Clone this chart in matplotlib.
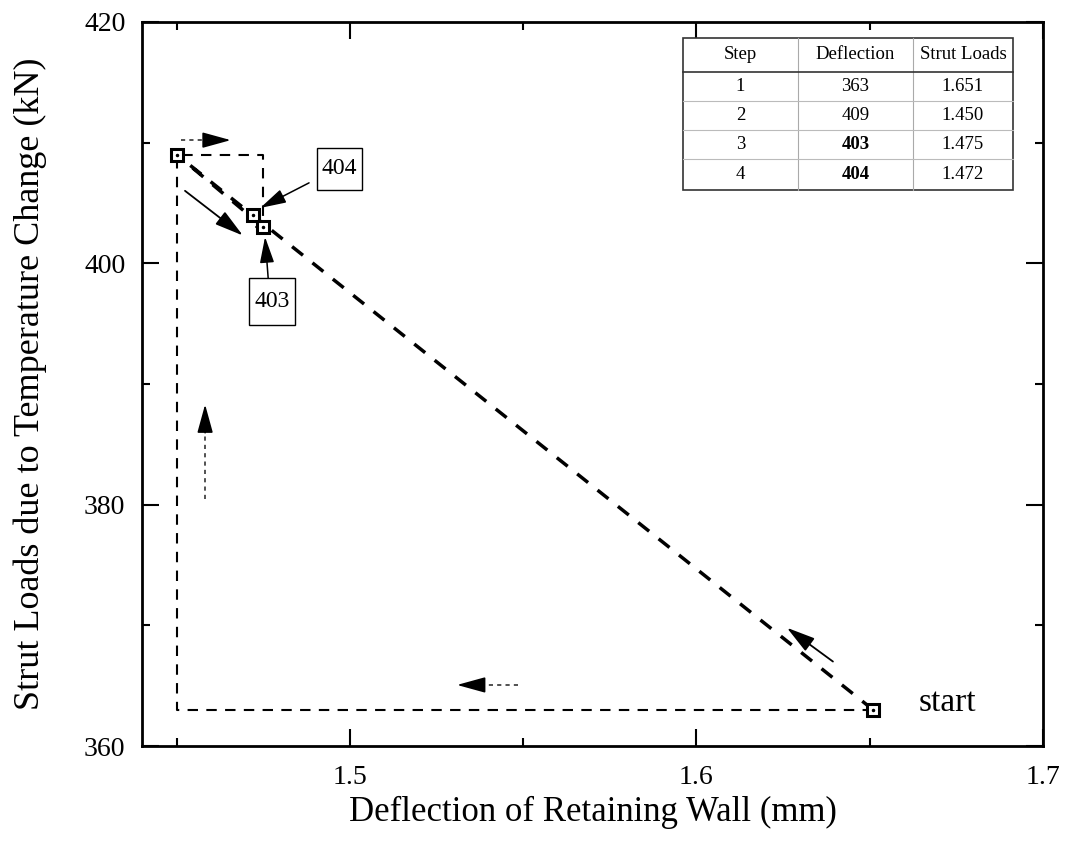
import matplotlib
matplotlib.use("Agg")
import matplotlib.pyplot as plt
from matplotlib.ticker import MultipleLocator
from matplotlib.lines import Line2D
from matplotlib.patches import Rectangle

# ---- data ----
steps = [1, 2, 3, 4]
deflection = [1.651, 1.450, 1.475, 1.472]   # mm
strut_load = [363, 409, 403, 404]           # kN
table_header = ["Step", "Deflection", "Strut Loads"]
table_col2 = ["363", "409", "403", "404"]
table_col3 = ["1.651", "1.450", "1.475", "1.472"]
bold_rows = [2, 3]
x_ticks = [1.5, 1.6, 1.7]
y_ticks = [360, 380, 400, 420]
callouts = ["404", "403"]

plt.rcParams['font.family'] = ['Liberation Serif', 'DejaVu Serif']

fig = plt.figure(figsize=(10.68, 8.57), dpi=100)
ax = fig.add_axes([0.133, 0.1295, 0.8435, 0.845])

# step path (thin dashed)
ax.plot(deflection, strut_load, drawstyle='steps-post', color='black',
        lw=1.5, dashes=(5, 4), zorder=2)
# direct path (thick dashed)
ax.plot(deflection, strut_load, color='black', lw=2.5, dashes=(4, 3.5), zorder=3)
# markers
ax.plot(deflection, strut_load, ls='none', marker='s', ms=9, mfc='white',
        mec='black', mew=2.2, zorder=4)
ax.plot(deflection, strut_load, ls='none', marker='o', ms=1.5, color='black', zorder=5)

ax.set_xlim(1.44, 1.70)
ax.set_ylim(360, 420)
ax.xaxis.set_minor_locator(MultipleLocator(0.05))
ax.yaxis.set_minor_locator(MultipleLocator(10))
ax.set_xticks(x_ticks)
ax.set_xticklabels([f"{v:g}" for v in x_ticks])
ax.set_yticks(y_ticks)
ax.tick_params(which='both', direction='in', top=True, right=True, width=1.5)
ax.tick_params(which='major', length=12, labelsize=20)
ax.tick_params(axis='x', which='major', pad=14)
ax.tick_params(axis='y', which='major', pad=12)
ax.tick_params(which='minor', length=6)
for s in ax.spines.values():
    s.set_linewidth(2)

ax.set_xlabel("Deflection of Retaining Wall (mm)", fontsize=25)
ax.set_ylabel("Strut Loads due to Temperature Change (kN)", fontsize=26)
ax.xaxis.label.set_va('center')
ax.yaxis.label.set_va('center')
ax.xaxis.set_label_coords(0.5, (746 - 812) / 724.0)
ax.yaxis.set_label_coords((30 - 142) / 901.0, 0.5)

HEAD = '-|>,head_length=0.8,head_width=0.22'

def arrow(x0, y0, x1, y1, dotted=False, lw=1.3, ms=22):
    if dotted:
        fx_ = x0 + (x1 - x0) * 0.7
        fy_ = y0 + (y1 - y0) * 0.7
        ax.plot([x0, fx_], [y0, fy_], color='#333333', lw=1.2, dashes=(2.5, 2.5), zorder=6)
        ax.annotate("", xy=(x1, y1), xytext=(fx_, fy_),
                    arrowprops=dict(arrowstyle=HEAD, color='black', lw=1.2,
                                    mutation_scale=ms, shrinkA=0, shrinkB=0), zorder=6)
    else:
        ax.annotate("", xy=(x1, y1), xytext=(x0, y0),
                    arrowprops=dict(arrowstyle=HEAD, color='black', lw=lw,
                                    mutation_scale=ms, shrinkA=0, shrinkB=0), zorder=6)

arrow(1.4512, 410.2, 1.4656, 410.2, dotted=True)
arrow(1.4524, 406.0, 1.4691, 402.3)
arrow(1.4582, 380.5, 1.4582, 388.3, dotted=True)
arrow(1.5485, 365.06, 1.5309, 365.06, dotted=True)
arrow(1.6394, 367.0, 1.6261, 369.8)

# table / box helpers (axes fraction from pixel layout)
def fx(px):
    return (px - 142) / 901.0
def fy(py):
    return (746 - py) / 724.0
t = ax.transAxes

# boxed callouts
box_px = [(317, 148, 362, 190), (249, 278, 295, 325)]
for label, (x0, y0, x1, y1) in zip(callouts, box_px):
    ax.add_patch(Rectangle((fx(x0), fy(y1)), fx(x1) - fx(x0), fy(y0) - fy(y1),
                           transform=t, fc='white', ec='black', lw=1, zorder=7))
    ax.text(fx((x0 + x1) / 2), fy((y0 + y1) / 2), label, transform=t, fontsize=17,
            ha='center', va='center', zorder=8)
arrow(1.4882, 406.66, 1.4741, 404.58, lw=1.1, ms=20)
arrow(1.4764, 398.78, 1.4755, 402.18, lw=1.1, ms=20)

ax.text(1.664, 363.6, "start", fontsize=24, ha='left', va='center')

# table
col_px = [683, 798, 913, 1013]
row_px = [38, 72, 101, 130, 159, 190]
ax.add_patch(Rectangle((fx(col_px[0]), fy(row_px[-1])),
                       fx(col_px[-1]) - fx(col_px[0]), fy(row_px[0]) - fy(row_px[-1]),
                       transform=t, fc='white', ec='#333333', lw=1.2, zorder=8))
for c in col_px[1:-1]:
    ax.add_line(Line2D([fx(c), fx(c)], [fy(row_px[0]), fy(row_px[-1])], transform=t,
                       color='#aaaaaa', lw=0.8, zorder=9))
for i, r in enumerate(row_px[1:-1]):
    ax.add_line(Line2D([fx(col_px[0]), fx(col_px[-1])], [fy(r), fy(r)], transform=t,
                       color='#333333' if i == 0 else '#bbbbbb',
                       lw=1.2 if i == 0 else 0.8, zorder=9))
rows = [table_header] + [[str(s), a, b] for s, a, b in zip(steps, table_col2, table_col3)]
for ri, row in enumerate(rows):
    yc = fy((row_px[ri] + row_px[ri + 1]) / 2)
    for ci, txt in enumerate(row):
        xc = fx((col_px[ci] + col_px[ci + 1]) / 2)
        weight = 'bold' if (ri - 1 in bold_rows and ci == 1) else 'normal'
        ax.text(xc, yc, txt, transform=t, ha='center', va='center', fontsize=13.5,
                fontweight=weight, zorder=10)

fig.savefig("out.png", dpi=100)
